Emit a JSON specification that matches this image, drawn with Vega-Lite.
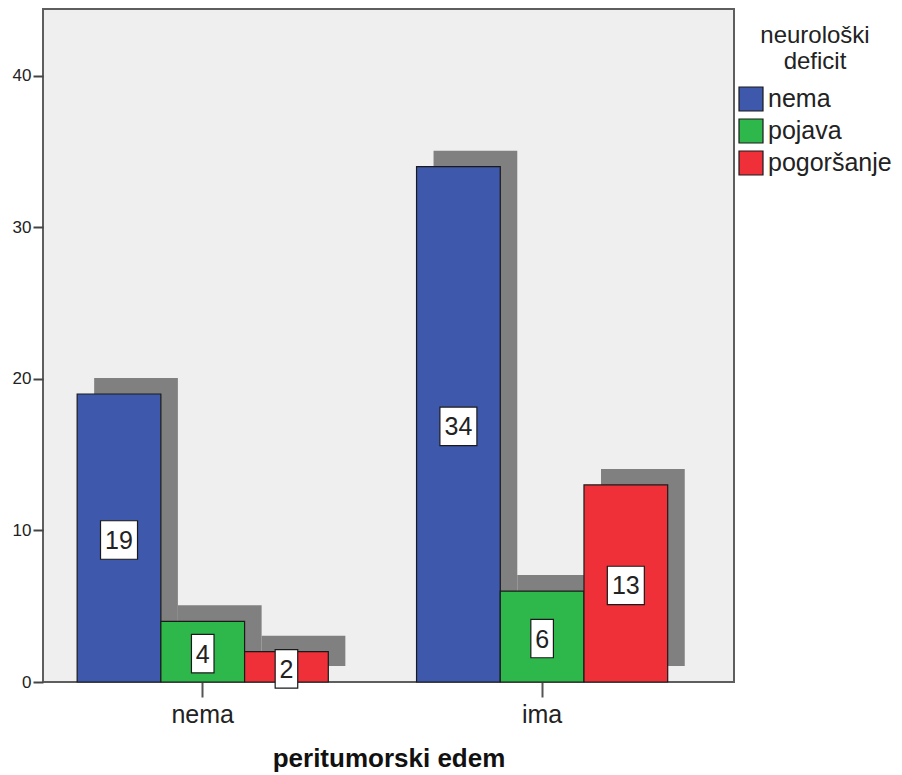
{
  "$schema": "https://vega.github.io/schema/vega-lite/v6.json",
  "width": 691,
  "height": 673,
  "autosize": {"type": "none"},
  "padding": {"left": 43, "top": 9, "right": 168, "bottom": 93},
  "background": "white",
  "config": {
    "font": "Liberation Sans",
    "view": {"fill": "#efefef", "stroke": "#5e5e5e", "strokeWidth": 2}
  },
  "data": {
    "values": [
      {"edem": "nema", "deficit": "nema", "n": 19},
      {"edem": "nema", "deficit": "pojava", "n": 4},
      {"edem": "nema", "deficit": "pogoršanje", "n": 2},
      {"edem": "ima", "deficit": "nema", "n": 34},
      {"edem": "ima", "deficit": "pojava", "n": 6},
      {"edem": "ima", "deficit": "pogoršanje", "n": 13}
    ]
  },
  "encoding": {
    "x": {
      "field": "edem",
      "type": "nominal",
      "scale": {"domain": ["nema", "ima"], "paddingInner": 0.26, "paddingOuter": 0.148, "align": 0.34},
      "axis": {
        "title": "peritumorski edem",
        "titleFontSize": 26,
        "titleFontWeight": "bold",
        "titleColor": "#111",
        "titlePadding": 18,
        "labelFontSize": 25,
        "labelColor": "#222",
        "labelAngle": 0,
        "labelPadding": 5,
        "tickSize": 15,
        "tickWidth": 2,
        "tickColor": "#555",
        "domain": false,
        "grid": false
      }
    }
  },
  "layer": [
    {
      "mark": {"type": "bar", "color": "#808080", "yOffset": -16, "y2Offset": -16},
      "encoding": {
        "xOffset": {"field": "deficit", "type": "nominal", "scale": {"domain": ["nema", "pojava", "pogoršanje"], "range": [17, 268.2]}},
        "y": {
          "field": "n",
          "type": "quantitative",
          "scale": {"domain": [0, 44.4], "nice": false},
          "axis": {
            "title": null,
            "values": [0, 10, 20, 30, 40],
            "grid": false,
            "domain": false,
            "tickSize": 10,
            "tickWidth": 2,
            "tickColor": "#444",
            "labelFontSize": 17,
            "labelColor": "#222",
            "labelPadding": 2
          }
        }
      }
    },
    {
      "mark": {"type": "bar", "stroke": "#1a1a1a", "strokeWidth": 1.2},
      "encoding": {
        "xOffset": {"field": "deficit", "type": "nominal", "scale": {"domain": ["nema", "pojava", "pogoršanje"]}},
        "y": {"field": "n", "type": "quantitative"},
        "color": {
          "field": "deficit",
          "type": "nominal",
          "scale": {"domain": ["nema", "pojava", "pogoršanje"], "range": ["#3e58ac", "#2eb84b", "#ef3038"]},
          "legend": {
            "title": ["neurološki", "deficit"],
            "orient": "none",
            "legendX": 695,
            "legendY": 15,
            "padding": 0,
            "titleFontSize": 24,
            "titleFontWeight": "normal",
            "titleColor": "#222",
            "titleAnchor": "middle",
            "titleLineHeight": 26,
            "titlePadding": 12,
            "labelFontSize": 25,
            "labelColor": "#222",
            "labelOffset": 4,
            "symbolType": "square",
            "symbolSize": 576,
            "symbolStrokeColor": "#1a1a1a",
            "symbolStrokeWidth": 1.2,
            "symbolOpacity": 1,
            "rowPadding": 2
          }
        }
      }
    },
    {
      "transform": [{"calculate": "datum.n / 2", "as": "mid"}],
      "layer": [
        {
          "mark": {"type": "point", "filled": true, "fill": "white", "stroke": "#1a1a1a", "strokeWidth": 1.2, "opacity": 1, "size": 1369, "yOffset": 2},
          "encoding": {
            "xOffset": {"field": "deficit", "type": "nominal", "scale": {"domain": ["nema", "pojava", "pogoršanje"]}},
            "y": {"field": "mid", "type": "quantitative"},
            "shape": {
              "condition": {"test": "datum.n >= 10", "value": "M-1,-1.04H1V1.04H-1Z"},
              "value": "M-0.61,-1.04H0.61V1.04H-0.61Z"
            }
          }
        },
        {
          "mark": {"type": "text", "fontSize": 25, "color": "#222", "baseline": "middle", "align": "center", "yOffset": 3},
          "encoding": {
            "xOffset": {"field": "deficit", "type": "nominal", "scale": {"domain": ["nema", "pojava", "pogoršanje"]}},
            "y": {"field": "mid", "type": "quantitative"},
            "text": {"field": "n", "type": "quantitative"}
          }
        }
      ]
    }
  ],
  "resolve": {"scale": {"xOffset": "independent"}}
}
